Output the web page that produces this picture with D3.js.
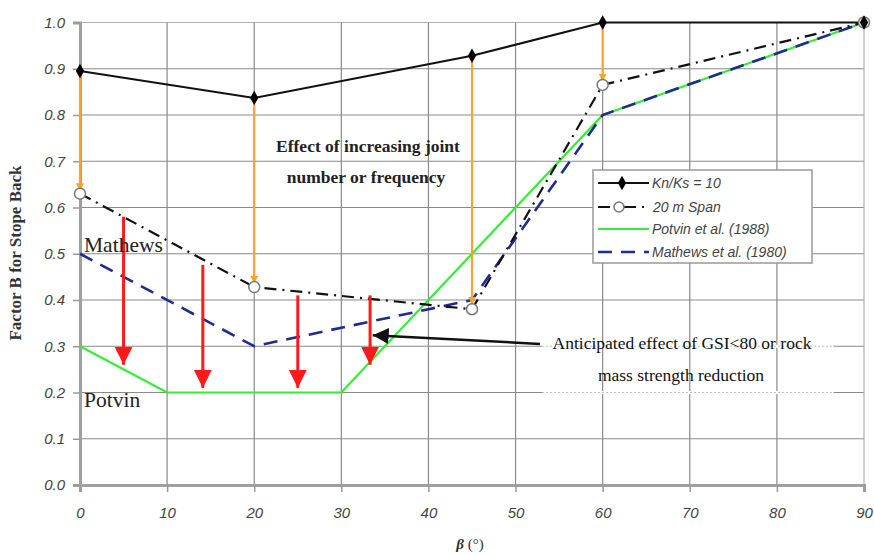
<!DOCTYPE html>
<html><head><meta charset="utf-8">
<script src="https://cdn.jsdelivr.net/npm/d3@7"></script>
<style>body{margin:0;background:#fff}</style>
</head><body>
<script>
const betaTicks = [0,10,20,30,40,50,60,70,80,90];
const bTicks = [0,0.1,0.2,0.3,0.4,0.5,0.6,0.7,0.8,0.9,1.0];

const knksBeta = [0,20,45,60,90];
const knksVal  = [0.895,0.837,0.928,1.0,1.0];
const spanBeta = [0,20,45,60,90];
const spanVal  = [0.63,0.428,0.38,0.865,1.0];
const potvinBeta = [0,10,30,60,90];
const potvinVal  = [0.3,0.2,0.2,0.8,1.0];
const mathewsBeta = [0,20,45,60,90];
const mathewsVal  = [0.5,0.3,0.4,0.8,1.0];

// orange: effect of joint number (from Kn/Ks down to 20 m span)
const orangeBeta = [0,20,45,60];
const orangeTop  = [0.895,0.837,0.928,1.0];
const orangeBot  = [0.635,0.435,0.39,0.872];
// red arrows: anticipated effect of GSI
const redBeta = [5,14.1,25,33.3];
const redTop  = [0.58,0.476,0.41,0.41];
const redBot  = [0.26,0.21,0.21,0.26];

const W=874,H=555;
const x=d3.scaleLinear().domain([0,90]).range([80,864]);
const y=d3.scaleLinear().domain([0,1]).range([485,22.5]);

const svg=d3.select("body").append("svg").attr("width",W).attr("height",H);
const defs=svg.append("defs");
function marker(id,color,w,h){
  defs.append("marker").attr("id",id).attr("viewBox","0 0 10 10").attr("refX",10).attr("refY",5)
   .attr("markerWidth",w).attr("markerHeight",h).attr("markerUnits","userSpaceOnUse").attr("orient","auto")
   .append("path").attr("d","M0,0L10,5L0,10Z").attr("fill",color);
}
marker("ar-red","#ff1a1a",18,20);
marker("ar-org","#f5a431",8,8);
marker("ar-blk","#111",16,16);

// gridlines
const g=svg.append("g");
g.selectAll(".hg").data(bTicks.slice(1)).join("line")
 .attr("x1",x(0)).attr("x2",x(90)).attr("y1",d=>y(d)).attr("y2",d=>y(d))
 .attr("stroke",d=>d===1?"#b0b0b0":"#8a8a8a").attr("stroke-width",1.2);
g.selectAll(".vg").data(betaTicks.slice(1)).join("line")
 .attr("x1",d=>x(d)).attr("x2",d=>x(d)).attr("y1",y(0)).attr("y2",y(1))
 .attr("stroke",d=>d===90?"#b0b0b0":"#8a8a8a").attr("stroke-width",1.2);

// dotted grid segments behind the anticipated annotation
[0.3,0.2].forEach(v=>{
  svg.append("line").attr("x1",542).attr("x2",x(86.5)).attr("y1",y(v)).attr("y2",y(v))
   .attr("stroke","#fff").attr("stroke-width",3);
  svg.append("line").attr("x1",542).attr("x2",x(86.5)).attr("y1",y(v)).attr("y2",y(v))
   .attr("stroke","#c0c0c0").attr("stroke-dasharray","2,2").attr("stroke-width",1);
});

// axes
const yAxis=d3.axisLeft(y).tickValues(bTicks).tickFormat(d3.format(".1f")).tickSize(7).tickPadding(8);
const ya=svg.append("g").attr("transform",`translate(${x(0)},0)`).call(yAxis);
const xAxis=d3.axisBottom(x).tickValues(betaTicks).tickFormat(d3.format("d")).tickSize(7).tickPadding(12);
const xa=svg.append("g").attr("transform",`translate(0,${y(0)})`).call(xAxis);
[ya,xa].forEach(a=>{
  a.select(".domain").attr("stroke","#a0a0a0").attr("stroke-width",3);
  a.selectAll(".tick line").attr("stroke","#999").attr("stroke-width",1.5);
  a.selectAll("text").attr("font-family","Liberation Sans, Arial, sans-serif").attr("font-style","italic")
   .attr("font-size",15).attr("fill","#444");
});
xa.selectAll(".tick text").attr("dy","0.9em");

// axis titles
svg.append("text").attr("x",470).attr("y",549).attr("text-anchor","middle")
 .attr("font-family","Liberation Serif, Times New Roman, serif").attr("font-size",15).attr("fill","#333")
 .html('<tspan font-style="italic" font-weight="bold">β</tspan> (°)');
svg.append("text").attr("transform","translate(21,253) rotate(-90)").attr("text-anchor","middle")
 .attr("font-family","Liberation Serif, Times New Roman, serif").attr("font-weight","bold").attr("font-size",17)
 .attr("fill","#333").text("Factor B for Stope Back");

const line=d3.line().x(d=>x(d[0])).y(d=>y(d[1]));
const zip=(a,b)=>a.map((v,i)=>[v,b[i]]);

svg.append("path").attr("d",line(zip(potvinBeta,potvinVal))).attr("fill","none").attr("stroke","#33ee33").attr("stroke-width",2.2);
svg.append("path").attr("d",line(zip(mathewsBeta,mathewsVal))).attr("fill","none").attr("stroke","#1f2b8f").attr("stroke-width",2.6).attr("stroke-dasharray","14,9");
svg.append("path").attr("d",line(zip(spanBeta,spanVal))).attr("fill","none").attr("stroke","#111").attr("stroke-width",2.2).attr("stroke-dasharray","12,6,2,6");
svg.append("path").attr("d",line(zip(knksBeta,knksVal))).attr("fill","none").attr("stroke","#111").attr("stroke-width",2);

// orange lines
svg.selectAll(".org").data(orangeBeta).join("line")
 .attr("x1",d=>x(d)).attr("x2",d=>x(d)).attr("y1",(d,i)=>y(orangeTop[i])).attr("y2",(d,i)=>y(orangeBot[i]))
 .attr("stroke","#f5a431").attr("stroke-width",2.2).attr("marker-end","url(#ar-org)");

// markers
svg.selectAll(".sp").data(zip(spanBeta,spanVal)).join("circle")
 .attr("cx",d=>x(d[0])).attr("cy",d=>y(d[1])).attr("r",5.5).attr("fill","#fff").attr("stroke","#777").attr("stroke-width",1.5);
svg.selectAll(".kn").data(zip(knksBeta,knksVal)).join("path")
 .attr("transform",d=>`translate(${x(d[0])},${y(d[1])})`)
 .attr("d",d3.symbol(d3.symbolDiamond,60)).attr("fill","#000");

// red arrows
svg.selectAll(".red").data(redBeta).join("line")
 .attr("x1",d=>x(d)).attr("x2",d=>x(d)).attr("y1",(d,i)=>y(redTop[i])).attr("y2",(d,i)=>y(redBot[i]))
 .attr("stroke","#ff1a1a").attr("stroke-width",3).attr("marker-end","url(#ar-red)");

// black annotation arrow
svg.append("line").attr("x1",x(52.8)).attr("y1",y(0.305)).attr("x2",x(33.6)).attr("y2",y(0.324))
 .attr("stroke","#111").attr("stroke-width",2.5).attr("marker-end","url(#ar-blk)");

// annotations
const serif="Liberation Serif, Times New Roman, serif";
const t1=svg.append("text").attr("font-family",serif).attr("font-weight","bold").attr("font-size",17.5).attr("fill","#222").attr("text-anchor","middle");
t1.append("tspan").attr("x",368).attr("y",152).text("Effect of increasing joint");
t1.append("tspan").attr("x",366).attr("y",183).text("number or frequency");
const t2=svg.append("text").attr("font-family",serif).attr("font-size",17.5).attr("fill","#111").attr("text-anchor","middle");
t2.append("tspan").attr("x",682).attr("y",349).text("Anticipated effect of GSI<80 or rock");
t2.append("tspan").attr("x",681).attr("y",381).text("mass strength reduction");
svg.append("text").attr("x",84).attr("y",252).attr("font-family",serif).attr("font-size",21.5).attr("fill","#222").text("Mathews");
svg.append("text").attr("x",84).attr("y",407).attr("font-family",serif).attr("font-size",21.5).attr("fill","#222").text("Potvin");

// legend
const lg=svg.append("g");
lg.append("rect").attr("x",593).attr("y",170).attr("width",219).attr("height",93).attr("fill","#fff").attr("stroke","#999").attr("stroke-width",1.5);
const legNames=["Kn/Ks = 10","20 m Span","Potvin et al. (1988)","Mathews et al. (1980)"];
const legY=[183,207,229,252];
const ls=[
 {c:"#111",w:2,da:null},{c:"#111",w:2,da:"12,6,2,6"},{c:"#33ee33",w:2.2,da:null},{c:"#1f2b8f",w:2.6,da:"14,9"}];
legNames.forEach((n,i)=>{
  const x2=i===1?650:649;
  lg.append("line").attr("x1",598).attr("x2",x2).attr("y1",legY[i]).attr("y2",legY[i])
   .attr("stroke",ls[i].c).attr("stroke-width",ls[i].w).attr("stroke-dasharray",ls[i].da);
  lg.append("text").attr("x",i===1?653:652).attr("y",legY[i]+5).attr("font-family","Liberation Sans, Arial, sans-serif")
   .attr("font-style","italic").attr("font-size",14).attr("fill","#444").text(n);
});
lg.append("path").attr("transform","translate(622,183)").attr("d",d3.symbol(d3.symbolDiamond,60)).attr("fill","#000");
lg.append("circle").attr("cx",619).attr("cy",207).attr("r",5).attr("fill","#fff").attr("stroke","#777").attr("stroke-width",1.5);
</script>
</body></html>
